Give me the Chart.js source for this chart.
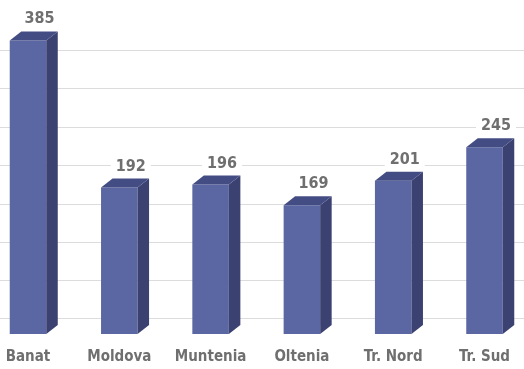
<!DOCTYPE html>
<html>
<head>
<meta charset="utf-8">
<script src="https://cdn.jsdelivr.net/npm/chart.js@4.4.1/dist/chart.umd.min.js"></script>
<style>
    html, body { margin: 0; padding: 0; background: #ffffff; }
    #wrap { width: 524px; height: 369px; }
</style>
</head>
<body>
<div id="wrap"><canvas id="regiuni"></canvas></div>
<script>
const regiuni = ['Banat', 'Moldova', 'Muntenia', 'Oltenia', 'Tr. Nord', 'Tr. Sud'];
const valori = [385, 192, 196, 169, 201, 245];
// back-wall gridlines, expressed on the front value scale
const liniiGrila = [21, 71, 121, 171, 222, 272, 322, 372];

const fontFamily = "'DejaVu Sans Condensed', 'DejaVu Sans', sans-serif";
const labelFont = "bold 16px " + fontFamily;
const textColor = '#6f6f6f';
const depth = { dx: 11.5, dy: 9 };

const grilaPlugin = {
    id: 'grila',
    beforeDatasetsDraw(chart) {
        const ctx = chart.ctx;
        const y = chart.scales.y;
        ctx.save();
        ctx.strokeStyle = '#dcdcdc';
        ctx.lineWidth = 1;
        liniiGrila.forEach(v => {
            const py = Math.round(y.getPixelForValue(v)) + 0.5;
            ctx.beginPath();
            ctx.moveTo(0, py);
            ctx.lineTo(chart.width, py);
            ctx.stroke();
        });
        ctx.restore();
    }
};

const bar3dPlugin = {
    id: 'bar3d',
    afterDatasetsDraw(chart) {
        const ctx = chart.ctx;
        const meta = chart.getDatasetMeta(0);
        ctx.save();
        meta.data.forEach((bar, i) => {
            const left = bar.x - bar.width / 2;
            const right = bar.x + bar.width / 2;
            const top = bar.y;
            const bottom = bar.base;
            // side face
            ctx.fillStyle = '#3b4170';
            ctx.beginPath();
            ctx.moveTo(right, bottom);
            ctx.lineTo(right + depth.dx, bottom - depth.dy);
            ctx.lineTo(right + depth.dx, top - depth.dy);
            ctx.lineTo(right, top);
            ctx.closePath();
            ctx.fill();
            // top face
            ctx.fillStyle = '#444c84';
            ctx.beginPath();
            ctx.moveTo(left, top);
            ctx.lineTo(left + depth.dx, top - depth.dy);
            ctx.lineTo(right + depth.dx, top - depth.dy);
            ctx.lineTo(right, top);
            ctx.closePath();
            ctx.fill();

            // value label with white background
            const txt = String(valori[i]);
            ctx.font = labelFont;
            const w = ctx.measureText(txt).width;
            const cx = bar.x + depth.dx;
            const baseY = top - depth.dy - 8;
            ctx.fillStyle = '#ffffff';
            ctx.fillRect(cx - w / 2 - 5, baseY - 16, w + 10, 19);
            ctx.fillStyle = textColor;
            ctx.textAlign = 'center';
            ctx.textBaseline = 'alphabetic';
            ctx.fillText(txt, cx, baseY);
        });
        ctx.restore();
    }
};

new Chart(document.getElementById('regiuni'), {
    type: 'bar',
    data: {
        labels: regiuni,
        datasets: [{
            data: valori,
            backgroundColor: '#5b67a3',
            borderWidth: 0,
            categoryPercentage: 1,
            barPercentage: 0.4,
            clip: false
        }]
    },
    options: {
        responsive: true,
        maintainAspectRatio: false,
        animation: false,
        layout: {
            padding: { left: 28, right: 39.5, top: 0, bottom: 2 }
        },
        scales: {
            x: {
                offset: false,
                grid: { display: false, drawTicks: false },
                border: { display: false },
                afterFit: (scale) => {
                    scale.paddingLeft = 0;
                    scale.paddingRight = 0;
                    scale.height = 33;
                },
                ticks: {
                    padding: 14,
                    maxRotation: 0,
                    autoSkip: false,
                    color: textColor,
                    font: { family: fontFamily, size: 15, weight: 'bold' }
                }
            },
            y: {
                display: false,
                min: 0,
                max: 438
            }
        },
        plugins: {
            legend: { display: false },
            tooltip: { enabled: false }
        }
    },
    plugins: [grilaPlugin, bar3dPlugin]
});
</script>
</body>
</html>
